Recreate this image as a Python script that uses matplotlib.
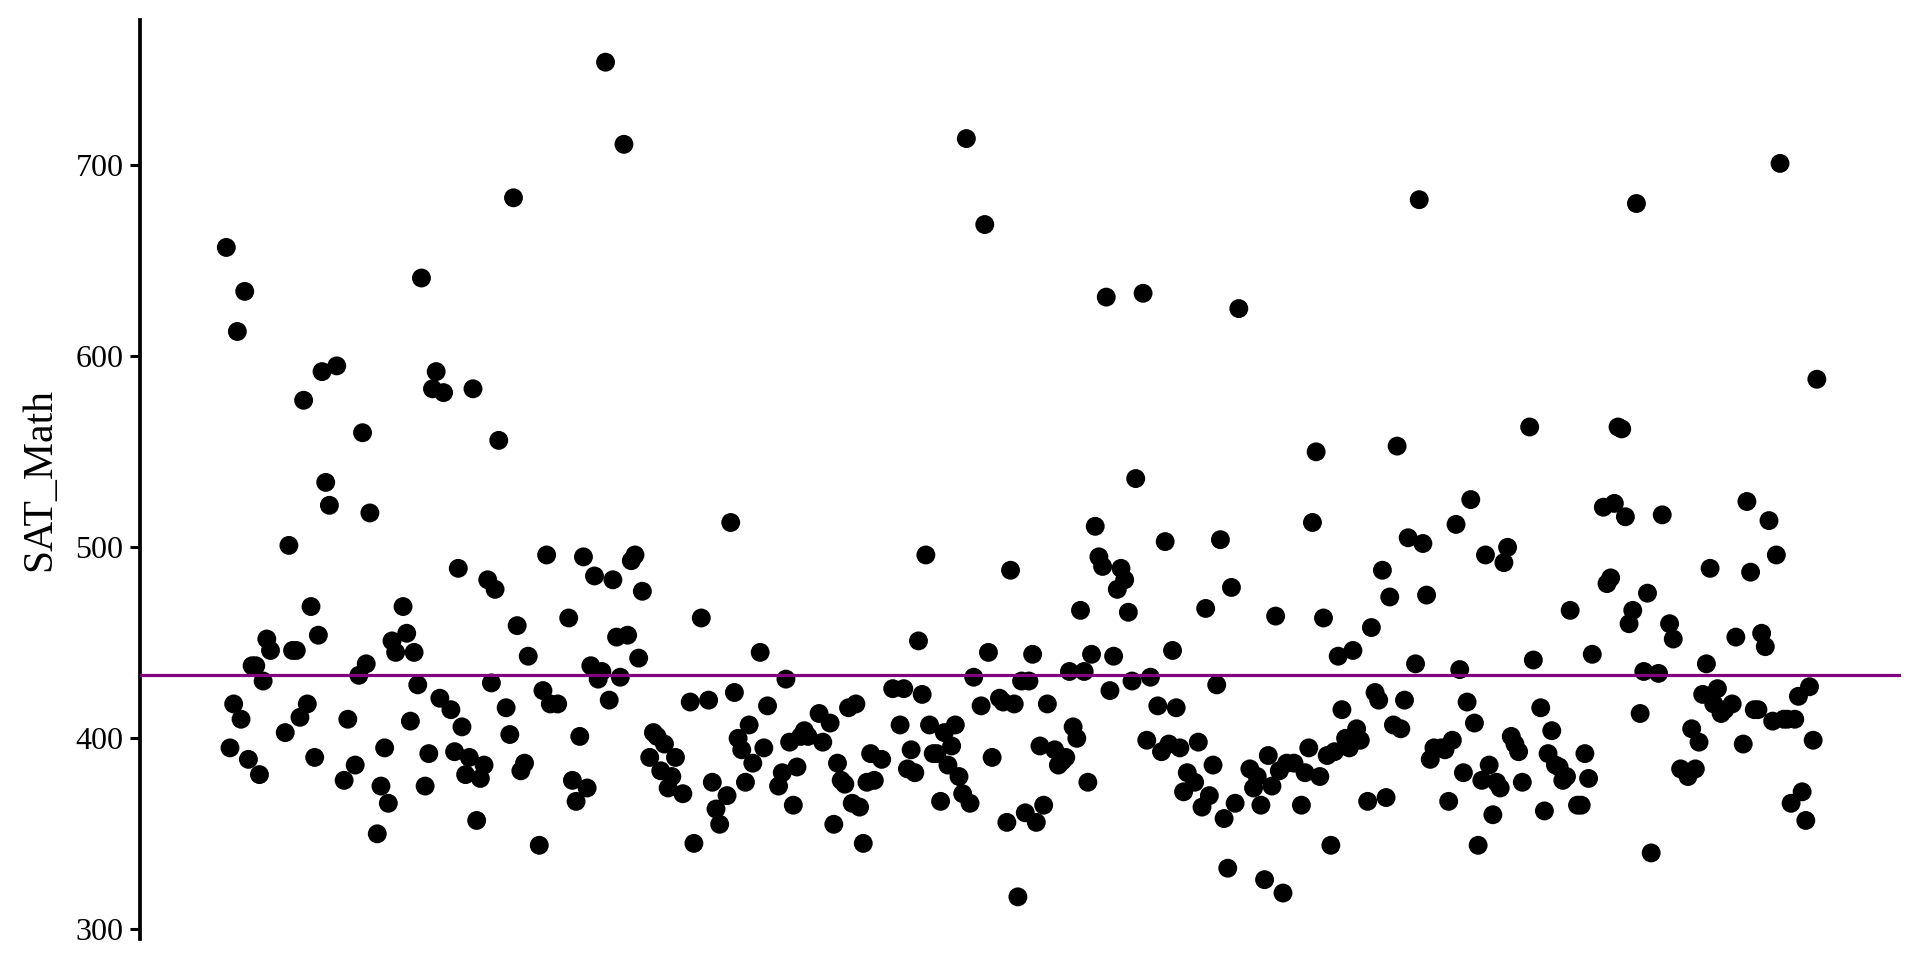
import matplotlib
matplotlib.use('Agg')
import matplotlib.pyplot as plt
import numpy as np

obs = [1, 2, 3, 4, 5, 6, 7, 8, 9, 10, 11, 12, 13, 17, 18, 19, 20, 21, 22, 23,
       24, 25, 26, 27, 28, 29, 31, 33, 34, 36, 37, 38, 39, 40, 42, 43, 44, 45, 46, 47,
       49, 50, 51, 52, 53, 54, 55, 56, 57, 58, 59, 60, 62, 63, 64, 65, 66, 67, 68, 69,
       70, 71, 72, 73, 74, 75, 77, 78, 79, 80, 81, 82, 83, 86, 87, 88, 89, 91, 94, 95,
       96, 97, 98, 99, 100, 101, 102, 103, 104, 105, 106, 107, 108, 109, 110, 111, 112, 113, 114, 116,
       117, 118, 119, 120, 121, 122, 123, 125, 127, 128, 130, 132, 133, 134, 135, 137, 138, 139, 140, 141,
       142, 143, 144, 146, 147, 148, 151, 152, 153, 154, 155, 156, 157, 158, 159, 162, 163, 165, 166, 167,
       168, 169, 170, 171, 172, 173, 174, 175, 176, 177, 179, 182, 184, 185, 186, 187, 188, 189, 190, 191,
       192, 193, 194, 195, 196, 197, 198, 199, 200, 201, 202, 203, 204, 206, 207, 208, 209, 211, 212, 213,
       214, 215, 216, 217, 218, 219, 220, 221, 222, 223, 224, 226, 227, 228, 229, 230, 231, 232, 233, 234,
       235, 236, 237, 238, 239, 240, 241, 242, 243, 244, 245, 246, 247, 248, 250, 251, 252, 254, 255, 256,
       257, 258, 259, 260, 261, 262, 264, 265, 266, 267, 268, 269, 270, 271, 272, 273, 274, 275, 276, 279,
       280, 281, 282, 283, 284, 285, 286, 287, 288, 289, 291, 293, 294, 295, 296, 297, 298, 299, 300, 301,
       302, 303, 304, 305, 306, 307, 308, 309, 311, 312, 313, 314, 315, 316, 317, 318, 319, 320, 321, 322,
       324, 325, 326, 327, 328, 329, 331, 332, 333, 334, 335, 336, 337, 338, 339, 340, 341, 342, 343, 344,
       345, 346, 347, 348, 349, 350, 351, 352, 353, 355, 356, 358, 359, 360, 361, 362, 363, 364, 365, 366,
       368, 369, 370, 371, 372, 375, 376, 377, 378, 379, 380, 381, 382, 383, 384, 385, 386, 387, 388, 390,
       391, 393, 394, 396, 398, 399, 400, 401, 402, 403, 404, 405, 406, 407, 408, 410, 411, 413, 414, 415,
       416, 417, 418, 419, 420, 421, 422, 423, 424, 425, 426, 427, 428, 429, 430, 431, 432, 433]

sat_math = [657, 395, 418, 613, 410, 634, 389, 438, 438, 381, 430, 452, 446, 403, 501, 446, 446, 411, 577, 418,
            469, 390, 454, 592, 534, 522, 595, 378, 410, 386, 433, 560, 439, 518, 350, 375, 395, 366, 451, 445,
            469, 455, 409, 445, 428, 641, 375, 392, 583, 592, 421, 581, 415, 393, 489, 406, 381, 390, 583, 357,
            379, 386, 483, 429, 478, 556, 416, 402, 683, 459, 383, 387, 443, 344, 425, 496, 418, 418, 463, 378,
            367, 401, 495, 374, 438, 485, 431, 435, 754, 420, 483, 453, 432, 711, 454, 493, 496, 442, 477, 390,
            403, 401, 383, 397, 374, 380, 390, 371, 419, 345, 463, 420, 377, 363, 355, 370, 513, 424, 400, 394,
            377, 407, 387, 445, 395, 417, 375, 382, 431, 398, 365, 385, 401, 404, 401, 413, 398, 408, 355, 387,
            378, 376, 416, 366, 418, 364, 345, 377, 392, 378, 389, 426, 407, 426, 384, 394, 382, 451, 423, 496,
            407, 392, 392, 367, 403, 386, 396, 407, 380, 371, 714, 366, 432, 417, 669, 445, 390, 421, 419, 356,
            488, 418, 317, 430, 361, 430, 444, 356, 396, 365, 418, 394, 386, 388, 390, 435, 406, 400, 467, 435,
            377, 444, 511, 495, 490, 631, 425, 443, 478, 489, 483, 466, 430, 536, 633, 399, 432, 417, 393, 503,
            397, 446, 416, 395, 372, 382, 377, 398, 364, 468, 370, 386, 428, 504, 358, 332, 479, 366, 625, 384,
            374, 380, 365, 326, 391, 375, 464, 383, 319, 387, 387, 365, 382, 395, 513, 550, 380, 463, 391, 344,
            393, 443, 415, 400, 395, 446, 405, 399, 367, 458, 424, 420, 488, 369, 474, 407, 553, 405, 420, 505,
            439, 682, 502, 475, 389, 395, 395, 394, 367, 399, 512, 436, 382, 419, 525, 408, 344, 378, 496, 386,
            360, 377, 374, 492, 500, 401, 397, 393, 377, 563, 441, 416, 362, 392, 404, 386, 385, 378, 380, 467,
            365, 365, 392, 379, 444, 521, 481, 484, 523, 563, 562, 516, 460, 467, 680, 413, 435, 476, 340, 434,
            517, 460, 452, 384, 380, 405, 384, 398, 423, 439, 489, 418, 426, 413, 415, 418, 453, 397, 524, 487,
            415, 415, 455, 448, 514, 409, 496, 701, 410, 410, 366, 410, 422, 372, 357, 427, 399, 588]

mean_score = 433
yticks = [300, 400, 500, 600, 700]

plt.rcParams['font.family'] = ['Liberation Serif', 'DejaVu Serif']

fig = plt.figure(figsize=(19.2, 9.6), dpi=100)
ax = fig.add_axes([0.073, 0.022, 0.917, 0.957])

ax.scatter(obs, sat_math, s=185, color='black', edgecolors='none', zorder=2)
ax.axhline(mean_score, color='#800080', linewidth=2.3, zorder=3)

ax.set_xlim(-22.4, 455.8)
ax.set_ylim(295, 776)
ax.set_yticks(yticks)
ax.set_xticks([])
ax.tick_params(axis='y', labelsize=23, length=7, width=2.2, color='black', pad=5)
ax.set_ylabel('SAT_Math', fontsize=30, labelpad=12)

for side in ['top', 'right', 'bottom']:
    ax.spines[side].set_visible(False)
ax.spines['left'].set_linewidth(2.7)

fig.savefig('out.png', dpi=100)
